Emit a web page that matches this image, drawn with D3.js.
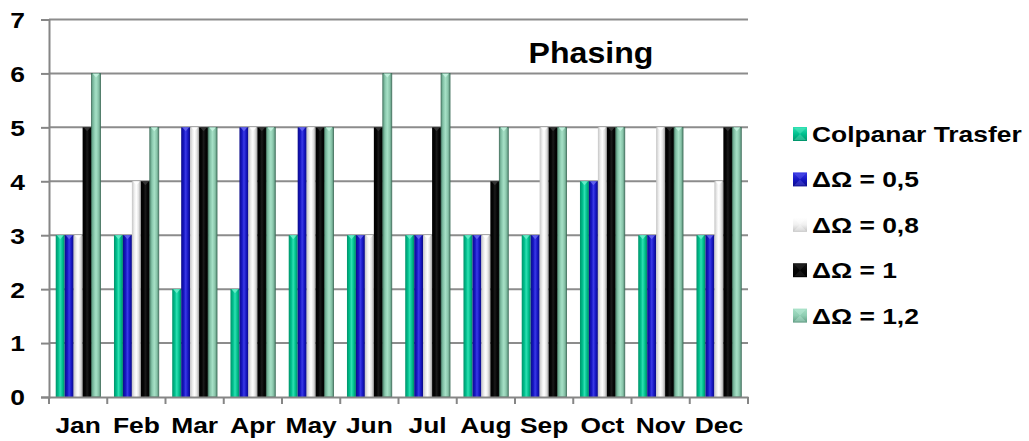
<!DOCTYPE html>
<html>
<head>
<meta charset="utf-8">
<script src="https://cdn.jsdelivr.net/npm/d3@7"></script>
<style>
  html, body { margin: 0; padding: 0; background: #fff; }
  svg { display: block; font-family: "Liberation Sans", Arial, sans-serif; }
</style>
</head>
<body>
<svg id="chart" width="1029" height="441"></svg>
<script>
// Monthly phasing counts per transfer strategy
const months = ["Jan", "Feb", "Mar", "Apr", "May", "Jun", "Jul", "Aug", "Sep", "Oct", "Nov", "Dec"];
const seriesNames = ["Colpanar Trasfer", "ΔΩ = 0,5", "ΔΩ = 0,8", "ΔΩ = 1", "ΔΩ = 1,2"];
const coplanar = [3, 3, 2, 2, 3, 3, 3, 3, 3, 4, 3, 3];
const dOmega05 = [3, 3, 5, 5, 5, 3, 3, 3, 3, 4, 3, 3];
const dOmega08 = [3, 4, 5, 5, 5, 3, 3, 3, 5, 5, 5, 4];
const dOmega10 = [5, 4, 5, 5, 5, 5, 5, 4, 5, 5, 5, 5];
const dOmega12 = [6, 5, 5, 5, 5, 6, 6, 5, 5, 5, 5, 5];
const yTicks = [0, 1, 2, 3, 4, 5, 6, 7];
const chartTitle = "Phasing";

const seriesValues = [coplanar, dOmega05, dOmega08, dOmega10, dOmega12];

// Shading stops for the cylinder-like bars: [edge, mid, highlight, mid, edge]
const palettes = [
  { stops: ["#00936a", "#00c08e", "#2ee0b2", "#00c08e", "#008a62"], cap: "#6ff0cc", stroke: null },
  { stops: ["#0c0c8a", "#1616c4", "#3a3ae6", "#1616c4", "#0a0a80"], cap: "#6a6af0", stroke: null },
  { stops: ["#c4c4c4", "#f0f0f0", "#ffffff", "#e2e2e2", "#a0a0a0"], cap: "#ffffff", stroke: null },
  { stops: ["#000000", "#050505", "#1a1a1a", "#050505", "#000000"], cap: "#3a3a3a", stroke: null },
  { stops: ["#5f9b82", "#8fcdb2", "#a6e0c6", "#8cc8ad", "#5a9079"], cap: "#c8f4e2", stroke: "#3f6e5a" }
];

const FONT = "'Liberation Sans', Arial, sans-serif";
const labelSize = 22;      // axis and legend text
const labelStretch = 1.2;  // wide bold lettering

const svg = d3.select("#chart");
const margin = { left: 49, right: 281, top: 19.5, bottom: 44 };
const W = 1029, H = 441;
const plotRight = W - margin.right;
const plotBottom = H - margin.bottom;

const x0 = d3.scaleBand().domain(months).range([margin.left, plotRight]).paddingInner(0).paddingOuter(0);
const barW = x0.bandwidth() / 6.5;
const x1 = d3.scaleBand().domain(d3.range(seriesNames.length))
  .range([0.75 * barW, 5.75 * barW]).padding(0);
const y = d3.scaleLinear().domain([0, 7]).range([plotBottom, margin.top]);

// Gradients
const defs = svg.append("defs");
palettes.forEach((p, i) => {
  const g = defs.append("linearGradient").attr("id", "bar" + i)
    .attr("x1", "0%").attr("x2", "100%").attr("y1", "0%").attr("y2", "0%");
  const offs = [0, 0.3, 0.5, 0.75, 1];
  p.stops.forEach((c, k) => g.append("stop").attr("offset", offs[k]).attr("stop-color", c));
  const lg = defs.append("linearGradient").attr("id", "leg" + i)
    .attr("x1", "0%").attr("x2", "0%").attr("y1", "0%").attr("y2", "100%");
  lg.append("stop").attr("offset", 0).attr("stop-color", p.stops[2]);
  lg.append("stop").attr("offset", 0.5).attr("stop-color", p.stops[1]);
  lg.append("stop").attr("offset", 1).attr("stop-color", p.stops[0]);
});

// Gridlines
const gridColor = "#8c8c8c";
svg.append("g").selectAll("line").data(yTicks.filter(t => t > 0)).join("line")
  .attr("x1", margin.left).attr("x2", plotRight)
  .attr("y1", d => y(d)).attr("y2", d => y(d))
  .attr("stroke", gridColor).attr("stroke-width", 2);

// Bars
const groups = svg.append("g").selectAll("g").data(months).join("g")
  .attr("transform", d => `translate(${x0(d)},0)`);

groups.each(function(m, mi) {
  const g = d3.select(this);
  seriesValues.forEach((vals, si) => {
    const v = vals[mi];
    const bx = x1(si), bw = x1.bandwidth();
    const top = y(v);
    g.append("rect")
      .attr("x", bx).attr("y", top)
      .attr("width", bw).attr("height", y(0) - top)
      .attr("fill", `url(#bar${si})`)
      .attr("stroke", palettes[si].stroke || "none")
      .attr("stroke-width", palettes[si].stroke ? 0.8 : 0);
    // bevelled cap
    g.append("path")
      .attr("d", `M${bx + 1},${top} L${bx + bw - 1},${top} L${bx + bw / 2},${top + 4} Z`)
      .attr("fill", palettes[si].cap).attr("opacity", 0.85);
  });
});

// Axes
const axisColor = "#868686";
const yAxis = svg.append("g").attr("transform", `translate(${margin.left},0)`)
  .call(d3.axisLeft(y).tickValues(yTicks).tickSize(8).tickFormat(d3.format("d")));
yAxis.select(".domain").attr("stroke", axisColor).attr("stroke-width", 2);
yAxis.selectAll(".tick line").attr("stroke", axisColor).attr("stroke-width", 2);
yAxis.selectAll(".tick text")
  .attr("x", 0).attr("dy", "0.36em")
  .attr("transform", `translate(-24,0) scale(${labelStretch},1)`)
  .attr("font-size", labelSize).attr("font-weight", "bold")
  .attr("fill", "#000").attr("font-family", FONT);

const xAxis = svg.append("g").attr("transform", `translate(0,${plotBottom})`)
  .call(d3.axisBottom(x0).tickSize(0));
xAxis.select(".domain").attr("stroke", axisColor).attr("stroke-width", 2);
xAxis.selectAll(".tick text")
  .attr("y", 0).attr("dy", 0)
  .attr("transform", `translate(0,36) scale(${labelStretch},1)`)
  .attr("font-size", labelSize).attr("font-weight", "bold").attr("fill", "#000")
  .attr("font-family", FONT);
// category boundary ticks
svg.append("g").selectAll("line").data(d3.range(months.length + 1)).join("line")
  .attr("x1", i => margin.left + i * x0.bandwidth())
  .attr("x2", i => margin.left + i * x0.bandwidth())
  .attr("y1", plotBottom).attr("y2", plotBottom + 7)
  .attr("stroke", axisColor).attr("stroke-width", 2);

// Title
svg.append("text")
  .attr("transform", "translate(591,63) scale(1.07,1)")
  .attr("text-anchor", "middle")
  .attr("font-size", 30).attr("font-weight", "bold").attr("fill", "#000").text(chartTitle);

// Legend
const legend = svg.append("g").attr("transform", "translate(793,0)");
const legRows = legend.selectAll("g").data(seriesNames).join("g")
  .attr("transform", (d, i) => `translate(0,${134 + i * 45.4})`);
legRows.append("rect").attr("x", 0).attr("y", -7).attr("width", 14).attr("height", 14)
  .attr("fill", (d, i) => `url(#leg${i})`);
legRows.append("path")
  .attr("d", "M1,-6 L13,-6 L7,0 Z M1,6 L13,6 L7,0 Z")
  .attr("fill", (d, i) => palettes[i].cap).attr("opacity", 0.35);
legRows.append("text")
  .attr("transform", `translate(19,0) scale(${labelStretch},1)`)
  .attr("dy", "0.36em")
  .attr("font-size", labelSize).attr("font-weight", "bold").attr("fill", "#000").text(d => d);
</script>
</body>
</html>
